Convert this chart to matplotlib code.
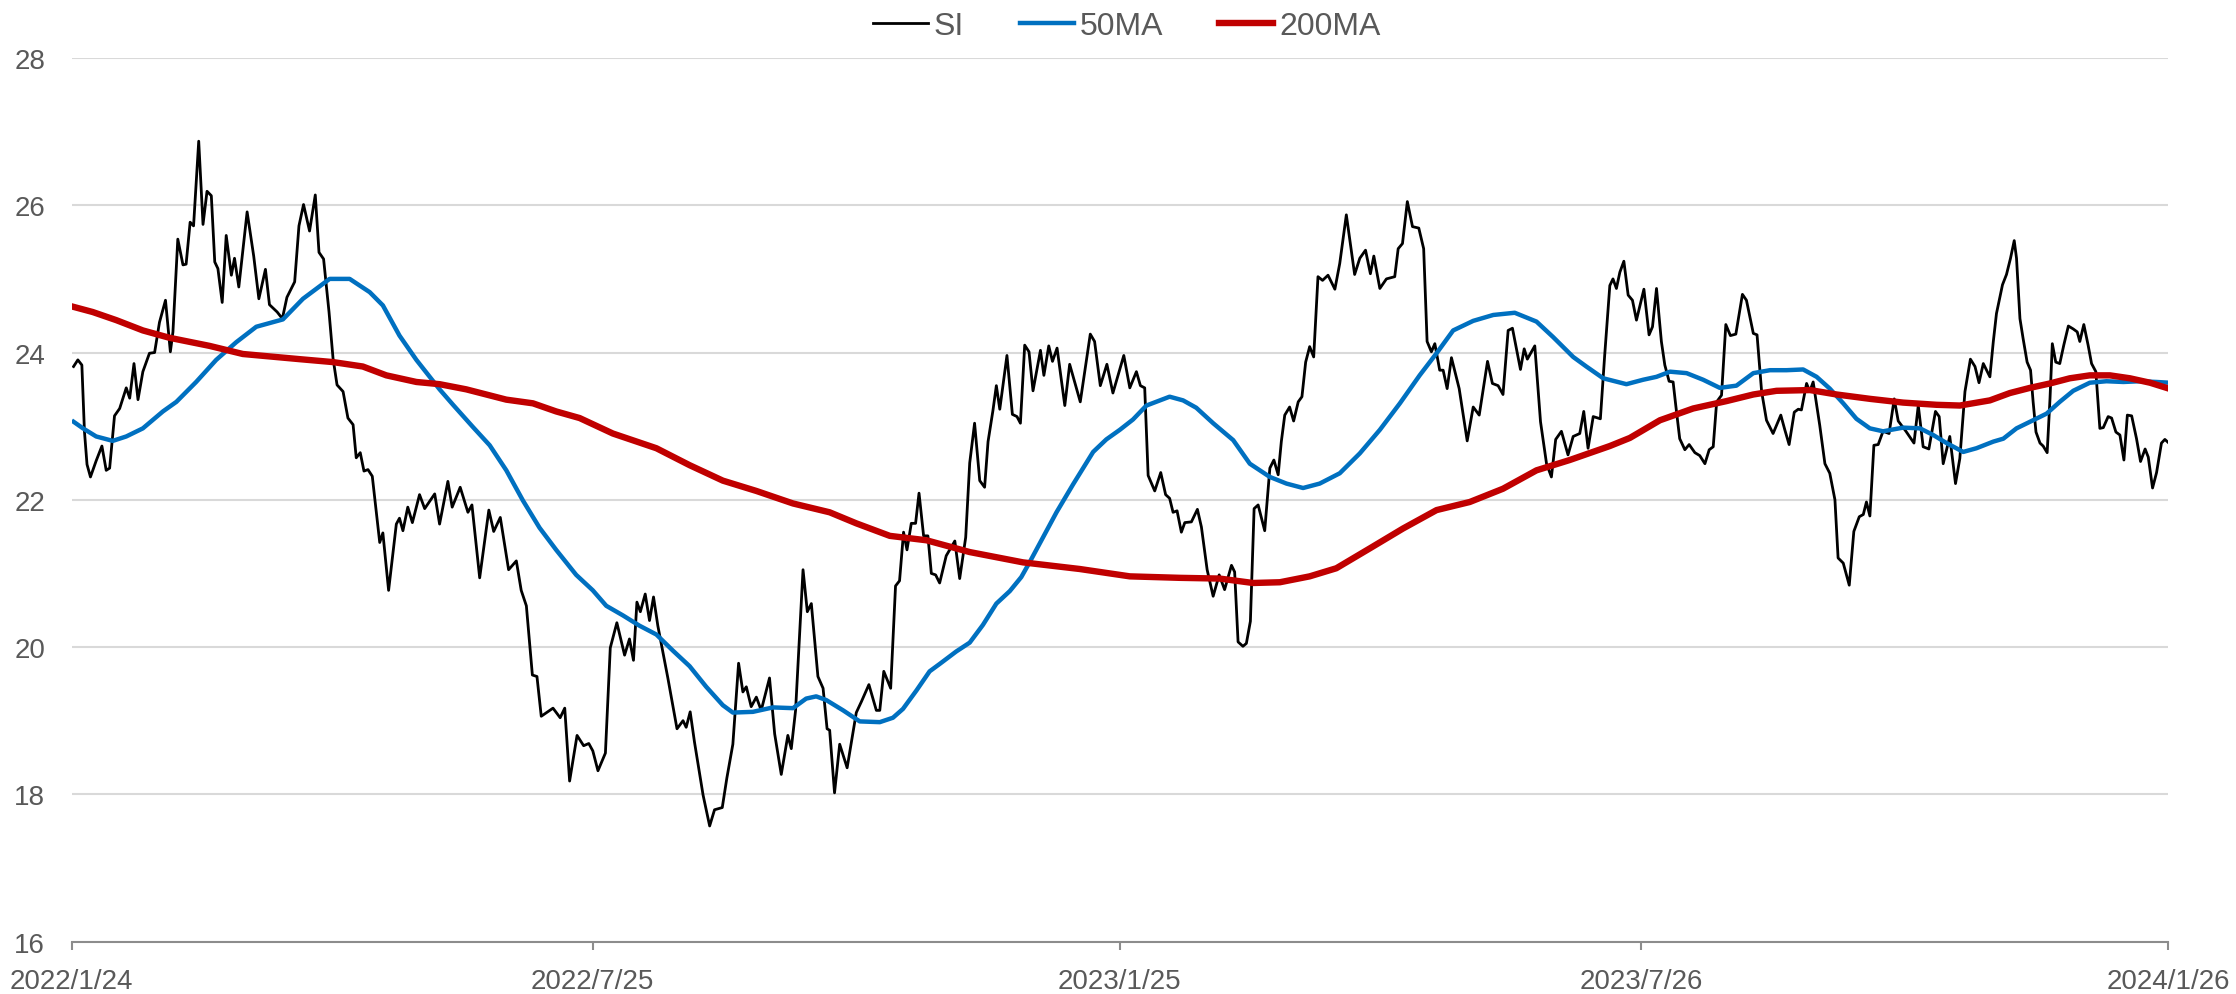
import matplotlib
matplotlib.use("Agg")
import matplotlib.pyplot as plt
import pandas as pd

plt.rcParams['font.family'] = ['Liberation Sans', 'DejaVu Sans']

start = pd.Timestamp("2022-01-24")

# SI, days after 2022/1/24 and price
si_day = [0.7, 2.2, 3.6, 4.5, 5.4, 6.6, 8.6, 10.6, 12.1, 13.3, 15.0, 16.8, 19.1, 20.3, 21.8, 23.2, 24.9, 27.2,
          29.0, 30.7, 32.8, 34.5, 35.4, 37.1, 38.9, 40.0, 41.4, 42.6, 44.4, 45.9, 47.3, 48.8, 50.0, 51.1, 52.6,
          54.0, 55.8, 56.9, 58.4, 61.3, 63.6, 65.4, 67.7, 69.1, 71.8, 73.6, 75.2, 77.9, 79.4, 81.0, 83.1, 85.1,
          86.4, 88.0, 89.9, 91.3, 92.7, 94.8, 96.5, 98.3, 99.4, 100.8, 102.1, 103.5, 105.0, 107.6, 108.7, 110.7,
          113.4, 114.5, 115.7, 117.4, 119.0, 121.5, 123.3, 126.8,
          128.5, 131.4, 132.9, 135.7, 138.4, 139.8, 142.5, 145.7, 147.4, 149.7, 152.6, 155.3, 157.0, 158.8,
          160.9, 162.5, 164.0, 168.1, 170.6, 172.2, 173.9, 176.5, 178.8, 180.6, 182.0, 183.8, 186.4, 188.1,
          190.4, 193.1, 194.8, 196.2, 197.4, 198.6, 200.3, 201.8, 203.2, 204.7, 208.2, 211.4, 213.5, 214.6,
          216.0, 217.5, 220.5, 222.8, 224.5, 227.2, 228.8, 230.9, 232.9, 234.4, 235.6, 237.3, 239.1, 240.8,
          243.7, 245.5, 247.8, 250.1, 251.3, 252.8, 255.4, 256.9, 258.3, 260.6, 262.4, 263.8,
          264.7, 266.4, 268.2, 270.8, 274.0, 275.8, 278.4, 281.0, 282.2, 283.6, 286.0, 287.7, 289.1, 290.5,
          291.7, 293.2, 294.7, 295.9, 297.5, 299.0, 300.2, 301.7, 303.1, 305.4, 308.4, 310.1, 312.2, 313.6,
          315.3, 317.1, 318.8, 320.0, 321.7, 322.9, 324.1, 326.6, 328.5, 330.1, 331.3, 332.8, 334.3, 335.7,
          338.3, 339.5, 341.2, 342.5, 344.1, 346.8, 348.5, 352.2, 355.7, 357.2, 359.2, 361.5, 363.6, 367.4,
          369.5, 371.8, 373.2, 374.7, 375.9, 378.2, 380.3, 382.0, 383.4, 384.6, 386.0, 387.5, 388.7, 391.0,
          393.1, 394.5, 396.5, 398.6, 400.7,
          402.6, 405.0, 406.1, 407.3, 409.0, 410.2, 411.6, 412.9, 414.3, 416.6, 418.4, 419.8, 421.3, 422.4,
          423.6, 425.3, 426.7, 428.3, 429.6, 430.9, 432.3, 433.7, 435.2, 436.8, 438.7, 441.1, 442.8, 445.1,
          448.0, 449.8, 451.8, 453.5, 454.7, 456.8, 459.1, 462.0, 463.2, 464.7, 466.4, 468.2, 470.4, 472.1,
          473.3, 474.8, 476.0, 477.7, 478.9, 480.3, 481.8, 484.5, 487.3, 489.4, 491.5, 494.4, 496.1, 498.1,
          499.8, 501.6, 503.1, 505.9, 507.2, 508.3, 510.9, 512.9, 515.0, 516.7, 518.2, 520.2, 522.5, 524.3,
          526.6, 528.0, 529.5, 531.3, 533.8, 535.3, 537.1, 538.2, 539.4, 540.6,
          542.0, 543.5, 545.0, 546.4, 549.0, 550.8, 552.0, 553.4, 555.1, 556.3, 557.8, 559.2, 560.1, 561.5,
          563.3, 564.8, 566.8, 568.5, 570.3, 571.8, 573.2, 574.4, 576.1, 577.6, 579.2, 581.1, 583.4, 584.8,
          587.2, 588.5, 590.1, 591.8, 594.1, 596.8, 598.2, 599.7, 601.5, 602.9, 604.0, 605.8, 606.9, 608.1,
          610.4, 612.2, 613.9, 615.7, 616.8, 618.6, 620.7, 622.3, 624.2, 625.6, 626.7, 627.9, 629.3, 630.8,
          632.5, 634.6, 636.4, 637.8, 640.5, 643.3, 644.8, 646.5, 648.5, 650.8, 652.1, 653.5, 655.8, 657.8,
          659.3, 661.1, 663.0, 664.6, 666.0, 667.5, 669.8,
          671.0, 672.1, 674.2, 675.6, 677.0, 678.3, 679.1, 680.3, 681.4, 682.8, 684.0, 684.9, 685.9, 687.3,
          688.4, 689.8, 690.8, 691.6, 692.8, 694.2, 695.6, 697.2, 698.9, 700.3, 701.2, 702.6, 704.1, 705.3,
          706.8, 708.2, 709.4, 711.1, 712.3, 713.8, 715.2, 716.6, 717.8, 719.3, 721.0, 722.4, 724.0, 725.1,
          726.6, 728.0, 729.7, 730.9, 732.3]
si_val = [23.81, 23.90, 23.83, 22.93, 22.48, 22.31, 22.53, 22.73, 22.40, 22.43, 23.14, 23.24, 23.52, 23.38,
          23.85, 23.36, 23.74, 23.99, 24.00, 24.41, 24.71, 24.01, 24.28, 25.54, 25.19, 25.20, 25.77, 25.72,
          26.87, 25.74, 26.19, 26.13, 25.23, 25.14, 24.68, 25.59, 25.05, 25.28, 24.89, 25.91, 25.31, 24.73,
          25.13, 24.65, 24.55, 24.46, 24.75, 24.96, 25.72, 26.01, 25.65, 26.14, 25.36, 25.27, 24.55, 23.92,
          23.56, 23.47, 23.11, 23.02, 22.57, 22.64, 22.39, 22.41, 22.32, 21.42, 21.55, 20.77, 21.67, 21.75,
          21.58, 21.90, 21.69, 22.07, 21.88, 22.08,
          21.67, 22.25, 21.90, 22.17, 21.83, 21.93, 20.94, 21.86, 21.57, 21.76, 21.05, 21.17, 20.77, 20.56,
          19.62, 19.60, 19.06, 19.17, 19.04, 19.17, 18.18, 18.80, 18.66, 18.69, 18.59, 18.32, 18.56, 19.99,
          20.33, 19.89, 20.11, 19.82, 20.61, 20.48, 20.72, 20.36, 20.68, 20.29, 19.58, 18.89, 19.00, 18.91,
          19.12, 18.71, 17.99, 17.57, 17.79, 17.82, 18.22, 18.68, 19.78, 19.39, 19.46, 19.19, 19.32, 19.14,
          19.58, 18.82, 18.27, 18.80, 18.62, 19.14, 21.05, 20.48, 20.59, 19.60, 19.44, 18.89,
          18.87, 18.02, 18.68, 18.36, 19.11, 19.26, 19.49, 19.14, 19.14, 19.67, 19.44, 20.83, 20.90, 21.56,
          21.32, 21.68, 21.68, 22.09, 21.51, 21.51, 21.00, 20.98, 20.87, 21.24, 21.44, 20.93, 21.49, 22.50,
          23.04, 22.26, 22.17, 22.79, 23.21, 23.55, 23.23, 23.96, 23.16, 23.13, 23.04, 24.10, 24.01, 23.48,
          24.03, 23.69, 24.09, 23.88, 24.06, 23.28, 23.84, 23.33, 24.25, 24.15, 23.55, 23.84, 23.45, 23.96,
          23.52, 23.74, 23.55, 23.52, 22.33, 22.12, 22.37, 22.07, 22.02, 21.83, 21.85, 21.56, 21.69, 21.70,
          21.87, 21.63, 21.05, 20.69, 20.98,
          20.78, 21.11, 21.02, 20.07, 20.01, 20.05, 20.35, 21.88, 21.93, 21.58, 22.43, 22.54, 22.34, 22.79,
          23.15, 23.26, 23.07, 23.33, 23.40, 23.87, 24.08, 23.94, 25.03, 24.98, 25.05, 24.86, 25.21, 25.87,
          25.06, 25.28, 25.39, 25.07, 25.31, 24.87, 25.00, 25.03, 25.41, 25.48, 26.05, 25.71, 25.69, 25.41,
          24.15, 24.01, 24.12, 23.76, 23.76, 23.51, 23.93, 23.51, 22.80, 23.26, 23.15, 23.88, 23.58, 23.55,
          23.43, 24.30, 24.33, 23.77, 24.05, 23.91, 24.09, 23.06, 22.49, 22.31, 22.82, 22.93, 22.61, 22.86,
          22.90, 23.20, 22.70, 23.13, 23.10, 23.96, 24.91, 25.00, 24.87, 25.09,
          25.24, 24.78, 24.71, 24.44, 24.86, 24.24, 24.35, 24.87, 24.15, 23.83, 23.61, 23.60, 23.29, 22.83,
          22.68, 22.75, 22.64, 22.60, 22.49, 22.68, 22.72, 23.33, 23.42, 24.38, 24.23, 24.25, 24.79, 24.71,
          24.26, 24.24, 23.47, 23.08, 22.90, 23.15, 22.95, 22.75, 23.19, 23.23, 23.22, 23.58, 23.47, 23.60,
          23.01, 22.49, 22.36, 22.00, 21.21, 21.14, 20.84, 21.57, 21.77, 21.80, 21.97, 21.78, 22.74, 22.75,
          22.93, 22.90, 23.37, 23.07, 22.93, 22.77, 23.28, 22.72, 22.69, 23.20, 23.13, 22.49, 22.86, 22.22,
          22.56, 23.47, 23.91, 23.81, 23.59, 23.85, 23.67,
          24.15, 24.53, 24.92, 25.06, 25.28, 25.52, 25.28, 24.46, 24.19, 23.87, 23.76, 23.33, 22.92, 22.77,
          22.73, 22.64, 23.38, 24.12, 23.87, 23.85, 24.10, 24.36, 24.32, 24.28, 24.15, 24.38, 24.10, 23.85,
          23.74, 22.97, 22.98, 23.13, 23.11, 22.92, 22.88, 22.54, 23.15, 23.14, 22.83, 22.52, 22.69, 22.58,
          22.16, 22.37, 22.77, 22.82, 22.77]

ma50_day = [0.7, 4.0, 8.6, 14.4, 19.1, 24.9, 31.9, 36.6, 43.5, 50.5, 57.5, 64.5, 73.8, 80.8, 90.1, 97.1,
            104.1, 108.7, 114.5, 120.4, 128.5, 133.2, 140.1, 146.0, 151.8, 157.6, 163.4, 169.2, 176.2,
            182.0, 186.7, 192.5, 198.3, 204.2, 210.0, 215.8, 221.6, 227.4, 230.9, 237.9, 244.9, 251.9,
            256.5, 260.0, 263.5, 269.4, 275.2, 282.2, 286.8, 290.3, 295.0, 299.6, 303.1, 308.9, 313.6,
            318.2, 322.9, 327.6, 331.6, 334.5, 339.2, 343.9, 349.7, 356.7, 361.3, 366.0, 370.6, 375.3,
            379.4, 383.4, 388.1, 392.7, 398.6, 405.6, 411.4, 418.4, 424.2, 430.0, 435.8, 442.8, 449.8,
            456.8, 463.8, 470.7, 476.6, 482.4, 489.4, 496.4, 503.9, 511.5, 517.3, 524.3, 528.9, 534.8,
            542.9, 548.7, 553.4, 558.1, 563.9, 569.7, 575.5, 581.3, 587.2, 593.0, 598.8, 604.6, 609.3,
            613.9, 618.6, 623.2, 627.9, 632.5, 639.5, 645.4, 650.0, 654.7, 660.5, 665.1, 671.0, 674.5,
            679.1, 684.9, 689.6, 694.2, 698.9, 704.7, 710.5, 716.4, 722.2, 728.0, 732.3]
ma50_val = [23.06, 22.97, 22.86, 22.80, 22.86, 22.97, 23.20, 23.33, 23.60, 23.90, 24.14, 24.35, 24.45,
            24.73, 25.00, 25.00, 24.82, 24.64, 24.23, 23.90, 23.50, 23.29, 22.99, 22.74, 22.40, 21.99,
            21.62, 21.32, 20.98, 20.77, 20.56, 20.43, 20.29, 20.17, 19.95, 19.74, 19.46, 19.21, 19.11,
            19.12, 19.18, 19.17, 19.30, 19.33, 19.28, 19.14, 18.99, 18.98, 19.04, 19.16, 19.41, 19.67,
            19.77, 19.94, 20.06, 20.30, 20.59, 20.76, 20.95, 21.15, 21.49, 21.83, 22.21, 22.65, 22.82,
            22.95, 23.09, 23.28, 23.34, 23.40, 23.35, 23.25, 23.04, 22.81, 22.49, 22.31, 22.22, 22.16,
            22.22, 22.36, 22.63, 22.95, 23.31, 23.69, 23.99, 24.30, 24.43, 24.51, 24.54, 24.42, 24.21,
            23.94, 23.81, 23.65, 23.57, 23.63, 23.67, 23.74, 23.72, 23.63, 23.52, 23.55, 23.72, 23.76,
            23.76, 23.77, 23.67, 23.51, 23.31, 23.10, 22.97, 22.93, 22.98, 22.97, 22.88, 22.77, 22.65,
            22.70, 22.79, 22.83, 22.97, 23.08, 23.17, 23.33, 23.48, 23.59, 23.61, 23.60, 23.61, 23.60,
            23.59]

ma200_day = [0.7, 7.4, 15.6, 24.9, 34.2, 48.2, 59.8, 79.6, 91.3, 101.7, 109.9, 120.4, 128.5, 137.8,
             151.8, 161.1, 169.2, 177.4, 189.0, 204.2, 215.8, 227.4, 239.1, 251.9, 264.7, 274.0, 285.7,
             298.5, 313.6, 332.2, 352.0, 369.5, 386.9, 400.9, 412.5, 421.9, 432.3, 441.6, 453.3, 464.9,
             476.6, 488.2, 499.8, 511.5, 523.1, 537.1, 544.1, 554.6, 566.2, 577.8, 587.2, 595.3, 607.0,
             616.3, 628.1, 639.5, 651.2, 659.3, 669.8, 676.8, 683.8, 690.8, 697.7, 704.7, 711.7, 718.7,
             725.7, 732.3]
ma200_val = [24.62, 24.55, 24.44, 24.30, 24.20, 24.09, 23.98, 23.91, 23.87, 23.81, 23.69, 23.60, 23.57,
             23.50, 23.36, 23.31, 23.20, 23.11, 22.90, 22.70, 22.47, 22.26, 22.12, 21.95, 21.83, 21.68,
             21.51, 21.45, 21.29, 21.15, 21.06, 20.96, 20.94, 20.93, 20.87, 20.88, 20.96, 21.07, 21.34,
             21.61, 21.86, 21.97, 22.15, 22.40, 22.54, 22.73, 22.84, 23.08, 23.24, 23.34, 23.43, 23.48,
             23.49, 23.43, 23.37, 23.32, 23.29, 23.28, 23.35, 23.45, 23.52, 23.58, 23.65, 23.69, 23.69,
             23.65, 23.59, 23.51]

tick_dates = ["2022-01-24", "2022-07-25", "2023-01-25", "2023-07-26", "2024-01-26"]
y_ticks = [16, 18, 20, 22, 24, 26, 28]


def to_dates(days):
    return [start + pd.Timedelta(days=d) for d in days]


fig = plt.figure(figsize=(22.36, 9.95), dpi=100)
ax = fig.add_axes([0.032, 0.0527, 0.9376, 0.888])

l1, = ax.plot(to_dates(si_day), si_val, color="black", lw=2.0, label="SI")
l2, = ax.plot(to_dates(ma50_day), ma50_val, color="#0070C0", lw=3.2, label="50MA")
l3, = ax.plot(to_dates(ma200_day), ma200_val, color="#C00000", lw=4.6, label="200MA")

ax.set_ylim(16, 28)
ax.set_yticks(y_ticks)
ax.set_xlim(start, pd.Timestamp("2024-01-26"))
ticks = [pd.Timestamp(t) for t in tick_dates]
ax.set_xticks(ticks)
ax.set_xticklabels([f"{t.year}/{t.month}/{t.day}" for t in ticks])

ax.grid(axis="y", color="#D9D9D9", lw=1.5)
ax.set_axisbelow(True)
for s in ["top", "left", "right"]:
    ax.spines[s].set_visible(False)
ax.spines["bottom"].set_color("#8C8C8C")
ax.spines["bottom"].set_linewidth(1.5)

ax.tick_params(axis="y", length=0, pad=19, labelsize=20, labelcolor="#595959")
ax.tick_params(axis="x", length=6, width=1.5, color="#8C8C8C", pad=13,
               labelsize=20, labelcolor="#595959")

fig.legend(handles=[l1, l2, l3], loc="center", bbox_to_anchor=(0.504, 0.973), ncol=3,
           frameon=False, fontsize=23, labelcolor="#595959", handlelength=1.7,
           handletextpad=0.18, columnspacing=1.75)

fig.savefig("out.png", dpi=100)
